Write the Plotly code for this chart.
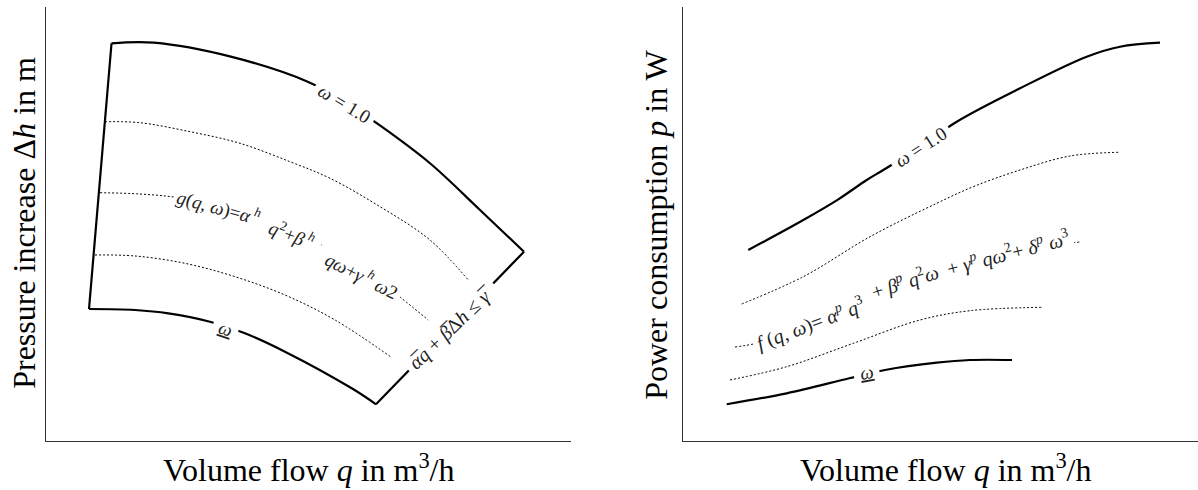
import plotly.graph_objects as go

# ---------------- Left panel: pressure increase vs. volume flow (arbitrary units 0..100)
# operating-range outline: left edge (up), omega=1.0 curve, right edge (down), omega_min curve (back)
q_left_edge = [8.19, 12.48]
dh_left_edge = [30.41, 91.64]
q_max_speed = [12.48, 20.53, 35.20, 49.85, 56.95, 63.94, 73.14, 82.67, 91.05]
dh_max_speed = [91.64, 91.77, 88.55, 82.79, 78.11, 72.42, 63.99, 53.23, 43.62]
q_right_edge = [91.05, 62.86]
dh_right_edge = [43.62, 8.46]
q_min_speed = [8.19, 16.95, 23.30, 31.24, 37.90, 45.52, 58.23, 62.86]
dh_min_speed = [30.41, 30.18, 29.42, 27.49, 24.82, 20.58, 12.14, 8.46]

# intermediate speed curves (dotted)
q_h1 = [11.24, 17.90, 27.43, 36.95, 46.48, 54.10, 63.62, 73.14, 80.44]
dh_h1 = [73.57, 73.34, 71.27, 68.59, 64.35, 60.53, 53.99, 46.31, 37.10]
q_h2 = [10.29, 17.90, 25.52, 35.05, 44.57, 54.10, 61.71, 67.43, 72.82]
dh_h2 = [57.21, 56.91, 55.99, 53.23, 49.31, 44.24, 38.71, 33.18, 27.88]
q_h3 = [9.33, 16.95, 26.48, 36.00, 45.52, 55.05, 65.71]
dh_h3 = [42.86, 42.63, 40.94, 37.86, 33.64, 27.88, 19.35]

# ---------------- Right panel: power consumption vs. volume flow
q_p_max = [12.68, 23.36, 30.16, 35.67, 38.89, 46.02, 53.15, 65.44, 78.39, 84.85, 92.62]
p_p_max = [44.01, 50.92, 55.69, 60.14, 62.44, 67.74, 73.57, 81.27, 88.55, 90.85, 91.77]
q_p1 = [11.40, 23.36, 36.31, 49.26, 56.70, 65.44, 75.15, 84.52]
p_p1 = [31.57, 37.86, 47.07, 54.77, 58.76, 62.44, 65.67, 66.52]
q_p2 = [10.10, 14.56, 20.78, 25.24, 32.43, 38.25, 43.30, 49.90, 56.70, 62.91, 70.29, 77.09]
p_p2 = [21.66, 22.58, 24.88, 27.42, 31.11, 34.33, 36.87, 39.17, 41.24, 43.09, 44.93, 45.85]
q_p3 = [9.13, 20.14, 33.07, 46.02, 55.73, 69.96]
p_p3 = [14.06, 17.12, 22.51, 27.88, 30.02, 30.81]
q_p_min = [8.49, 20.14, 32.29, 39.22, 49.26, 55.73, 63.88]
p_p_min = [8.46, 10.99, 14.45, 16.36, 18.04, 18.66, 18.66]

# ---------------- Labels
x_title = "Volume flow <i>q</i> in m<sup>3</sup>/h"
y_title_left = "Pressure increase Δ<i>h</i> in m"
y_title_right = "Power consumption <i>p</i> in W"

SOLID = dict(color="black", width=2.2, shape="spline", smoothing=1)
STRAIGHT = dict(color="black", width=2.2)
DOT = dict(color="black", width=1, dash="2px,2px", shape="spline", smoothing=1)

fig = go.Figure()


def add(x, y, style, ax):
    fig.add_trace(go.Scatter(x=x, y=y, mode="lines", line=style,
                             xaxis="x" if ax == 1 else "x2",
                             yaxis="y" if ax == 1 else "y2",
                             hoverinfo="skip", showlegend=False))


add(q_left_edge, dh_left_edge, STRAIGHT, 1)
add(q_max_speed, dh_max_speed, SOLID, 1)
add(q_right_edge, dh_right_edge, STRAIGHT, 1)
add(q_min_speed, dh_min_speed, SOLID, 1)
add(q_h1, dh_h1, DOT, 1)
add(q_h2, dh_h2, DOT, 1)
add(q_h3, dh_h3, DOT, 1)

add(q_p_max, p_p_max, SOLID, 2)
add(q_p1, p_p1, DOT, 2)
add(q_p2, p_p2, DOT, 2)
add(q_p3, p_p3, DOT, 2)
add(q_p_min, p_p_min, SOLID, 2)

LBL_FONT = "Liberation Serif"
NB = "\u00a0"


def label(text, x, y, angle, ax, size=17, pad=3):
    fig.add_annotation(text=text, x=x, y=y, textangle=angle,
                       xref="x" if ax == 1 else "x2", yref="y" if ax == 1 else "y2",
                       showarrow=False, xanchor="center", yanchor="middle",
                       bgcolor="white", borderpad=pad,
                       font=dict(family=LBL_FONT, size=size, color="#222"))


# left panel labels
label("<i>ω</i> = 1.0", 56.80, 77.81, 31, 1, size=19, pad=5)
label("<i>g</i>(<i>q</i>, <i>ω</i>)=<i>α</i><sup> <i>h</i></sup>" + NB, 33.30, 53.80, 15, 1, size=19, pad=3)
label(NB + "<i>q</i><sup>2</sup>+<i>β</i><sup> <i>h</i></sup>" + NB, 46.90, 47.75, 21, 1, size=19, pad=3)
label(NB + "<i>qω</i>+<i>γ</i><sup> <i>h</i></sup> <i>ω</i>2", 59.90, 38.40, 27, 1, size=19, pad=3)
label("<i>α</i>\u0305<i>q</i> + <i>β</i>\u0305Δ<i>h</i> ≤ <i>γ</i>\u0305", 77.33, 26.04, -44, 1, size=20, pad=5)
label("<u><i>ω</i></u>", 34.10, 25.97, 18, 1, size=19, pad=6)

# right panel labels
label("<i>ω</i> = 1.0", 46.02, 67.74, -33, 2, size=19, pad=5)
label("<i>f</i> (<i>q</i>, <i>ω</i>)= <i>α</i><sup><i>p</i></sup> <i>q</i><sup>3</sup>" + NB + NB,
      25.60, 27.50, -20.5, 2, size=20, pad=3)
label(NB + "+ <i>β</i><sup><i>p</i></sup> <i>q</i><sup>2</sup><i>ω</i>" + NB + NB, 43.40, 37.00, -18, 2, size=20, pad=3)
label("+ <i>γ</i><sup><i>p</i></sup> <i>qω</i><sup>2</sup>+ <i>δ</i><sup><i>p</i></sup> <i>ω</i><sup>3</sup>",
      63.10, 43.40, -14.5, 2, size=20, pad=3)
label("<u><i>ω</i></u>", 35.67, 15.74, -10, 2, size=19, pad=6)

# axis titles (as annotations for exact placement)
TITLE_FONT = dict(family="Liberation Serif", size=32, color="black")
fig.add_annotation(text=x_title, xref="paper", yref="paper", x=308.5 / 1198, y=(490 - 468) / 490,
                   showarrow=False, xanchor="center", yanchor="middle", font=TITLE_FONT)
fig.add_annotation(text=x_title, xref="paper", yref="paper", x=946 / 1198, y=(490 - 468) / 490,
                   showarrow=False, xanchor="center", yanchor="middle", font=TITLE_FONT)
fig.add_annotation(text=y_title_left, xref="paper", yref="paper", x=24.5 / 1198, y=(490 - 223.3) / 490,
                   showarrow=False, xanchor="center", yanchor="middle", textangle=-90, font=TITLE_FONT)
fig.add_annotation(text=y_title_right, xref="paper", yref="paper", x=655.8 / 1198, y=(490 - 225) / 490,
                   showarrow=False, xanchor="center", yanchor="middle", textangle=-90, font=TITLE_FONT)

AX = dict(showline=True, linecolor="#333", linewidth=1.2, showgrid=False, zeroline=False,
          showticklabels=False, ticks="", range=[0, 100], fixedrange=True)
YDOM = [49 / 490, 483 / 490]
fig.update_layout(
    width=1198, height=490,
    margin=dict(l=0, r=0, t=0, b=0),
    paper_bgcolor="white", plot_bgcolor="white",
    xaxis=dict(AX, domain=[46 / 1198, 571 / 1198], anchor="y"),
    yaxis=dict(AX, domain=YDOM, anchor="x"),
    xaxis2=dict(AX, domain=[683 / 1198, 1.0], anchor="y2"),
    yaxis2=dict(AX, domain=YDOM, anchor="x2"),
    showlegend=False,
)

fig.write_html("out.html")
